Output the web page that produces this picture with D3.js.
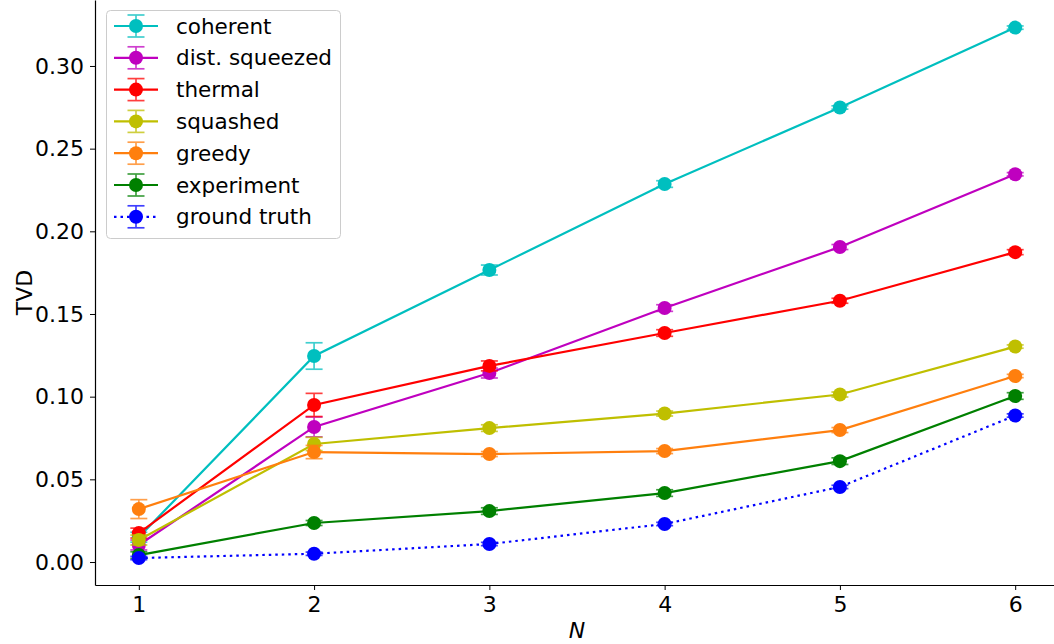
<!DOCTYPE html>
<html><head><meta charset="utf-8">
<script src="https://cdn.jsdelivr.net/npm/d3@7"></script>
<style>body{margin:0;background:#fff}svg{display:block}text{font-family:"DejaVu Sans",sans-serif}</style>
</head><body><svg id="c" width="1054" height="644"></svg>
<script>
const N = [1, 2, 3, 4, 5, 6];
const names = ["coherent", "dist. squeezed", "thermal", "squashed", "greedy", "experiment", "ground truth"];
const colors = ["#00bfbf", "#bf00bf", "#ff0000", "#bfbf00", "#ff7f0e", "#008000", "#0000ff"];
const coherent = [0.015, 0.1246, 0.1766, 0.2286, 0.2749, 0.3232];
const coherentErr = [0.003, 0.008, 0.003, 0.002, 0.001, 0.001];
const distSqueezed = [0.0103, 0.0817, 0.1143, 0.1536, 0.1905, 0.2345];
const distSqueezedErr = [0.003, 0.006, 0.003, 0.002, 0.0015, 0.001];
const thermal = [0.0175, 0.095, 0.1186, 0.1385, 0.158, 0.1874];
const thermalErr = [0.003, 0.007, 0.003, 0.002, 0.0015, 0.0015];
const squashed = [0.0133, 0.0714, 0.081, 0.0898, 0.1013, 0.1303];
const squashedErr = [0.003, 0.004, 0.002, 0.0015, 0.0015, 0.001];
const greedy = [0.032, 0.0665, 0.0653, 0.0671, 0.0798, 0.1125];
const greedyErr = [0.0057, 0.004, 0.0015, 0.0015, 0.0015, 0.001];
const experiment = [0.0042, 0.0236, 0.0308, 0.0417, 0.061, 0.1004];
const experimentErr = [0.002, 0.0015, 0.002, 0.002, 0.002, 0.002];
const groundTruth = [0.0024, 0.005, 0.0109, 0.023, 0.0454, 0.0886];
const groundTruthErr = [0.001, 0.001, 0.001, 0.001, 0.001, 0.001];
const yTicks = [0.00, 0.05, 0.10, 0.15, 0.20, 0.25, 0.30];
const xTicks = [1, 2, 3, 4, 5, 6];

const values = [coherent, distSqueezed, thermal, squashed, greedy, experiment, groundTruth];
const errs = [coherentErr, distSqueezedErr, thermalErr, squashedErr, greedyErr, experimentErr, groundTruthErr];
const series = names.map((n, i) => ({name: n, color: colors[i], dotted: i === 6,
  pts: N.map((x, j) => ({x, y: values[i][j], e: errs[i][j]}))}));

const svg = d3.select("#c");
const L = 95, R = 1059, T = 0, B = 585;
const x = d3.scaleLinear().domain([0.75, 6.25]).range([L, R]);
const y = d3.scaleLinear().domain([-0.0139, 0.3399]).range([B, T]);
const fs = 21.5, tfs = 22;

const xa = svg.append("g").attr("transform", `translate(0,${B})`)
  .call(d3.axisBottom(x).tickValues(xTicks).tickFormat(d3.format("d")).tickSize(5).tickPadding(6).tickSizeOuter(0));
const ya = svg.append("g").attr("transform", `translate(${L},0)`)
  .call(d3.axisLeft(y).tickValues(yTicks).tickFormat(d3.format(".2f")).tickSize(5).tickPadding(6).tickSizeOuter(0));
[xa, ya].forEach(a => {
  a.selectAll("text").attr("font-size", tfs).attr("fill", "#000").style("font-family", "DejaVu Sans");
  a.selectAll("line").attr("stroke", "#000").attr("stroke-width", 1);
  a.select(".domain").attr("stroke", "#000").attr("stroke-width", 1.2);
});
svg.append("text").attr("x", (L + R) / 2).attr("y", 638).attr("text-anchor", "middle")
  .attr("font-size", tfs).attr("font-style", "italic").text("N");
svg.append("text").attr("transform", `translate(32,${(T + B) / 2}) rotate(-90)`).attr("text-anchor", "middle")
  .attr("font-size", tfs).text("TVD");

const line = d3.line().x(d => x(d.x)).y(d => y(d.y));
const cap = 8.5, r = 7;
series.forEach(s => {
  const g = svg.append("g");
  g.append("path").datum(s.pts).attr("d", line).attr("fill", "none").attr("stroke", s.color)
    .attr("stroke-width", 2.2).attr("stroke-dasharray", s.dotted ? "2.5,4" : null);
  const eg = g.append("g").attr("stroke", s.color).attr("stroke-width", 1.7).attr("opacity", 0.75);
  s.pts.forEach(p => {
    eg.append("line").attr("x1", x(p.x)).attr("x2", x(p.x)).attr("y1", y(p.y - p.e)).attr("y2", y(p.y + p.e));
    [p.y - p.e, p.y + p.e].forEach(v => eg.append("line").attr("x1", x(p.x) - cap).attr("x2", x(p.x) + cap)
      .attr("y1", y(v)).attr("y2", y(v)));
  });
  g.selectAll("circle").data(s.pts).join("circle").attr("cx", d => x(d.x)).attr("cy", d => y(d.y))
    .attr("r", r).attr("fill", s.color);
});

// legend
const lg = svg.append("g");
lg.append("rect").attr("x", 106.5).attr("y", 10.5).attr("width", 234).attr("height", 228).attr("rx", 4)
  .attr("fill", "#fff").attr("fill-opacity", 0.8).attr("stroke", "#cccccc").attr("stroke-width", 1);
series.forEach((s, i) => {
  const cy = 26 + i * 31.8, cx = 136;
  const g = lg.append("g");
  g.append("line").attr("x1", 114).attr("x2", 158).attr("y1", cy).attr("y2", cy).attr("stroke", s.color)
    .attr("stroke-width", 2.2).attr("stroke-dasharray", s.dotted ? "2.5,4" : null);
  const eg = g.append("g").attr("stroke", s.color).attr("stroke-width", 1.7).attr("opacity", 0.75);
  eg.append("line").attr("x1", cx).attr("x2", cx).attr("y1", cy - 11).attr("y2", cy + 11);
  eg.append("line").attr("x1", cx - cap).attr("x2", cx + cap).attr("y1", cy - 11).attr("y2", cy - 11);
  eg.append("line").attr("x1", cx - cap).attr("x2", cx + cap).attr("y1", cy + 11).attr("y2", cy + 11);
  g.append("circle").attr("cx", cx).attr("cy", cy).attr("r", r).attr("fill", s.color);
  g.append("text").attr("x", 176).attr("y", cy + 7.5).attr("font-size", fs).text(s.name);
});
</script></body></html>
